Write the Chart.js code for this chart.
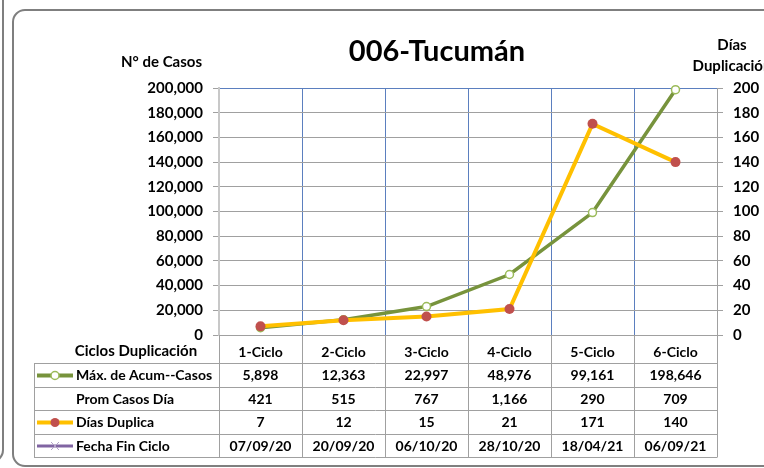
<!DOCTYPE html>
<html>
<head>
<meta charset="utf-8">
<title>006-Tucumán</title>
<script src="https://cdn.jsdelivr.net/npm/chart.js@4.4.0/dist/chart.umd.min.js"></script>
<style>
  html, body { margin: 0; padding: 0; background: #fff; }
  canvas { display: block; }
</style>
</head>
<body>
<canvas id="chart" width="764" height="468"></canvas>
<script>
// Ciclos de duplicación
const ciclos = ['1-Ciclo', '2-Ciclo', '3-Ciclo', '4-Ciclo', '5-Ciclo', '6-Ciclo'];

// Series (tabla de datos)
const maxAcumCasos = [5898, 12363, 22997, 48976, 99161, 198646];
const promCasosDia = [421, 515, 767, 1166, 290, 709];
const diasDuplica = [7, 12, 15, 21, 171, 140];
const fechaFinCiclo = ['07/09/20', '20/09/20', '06/10/20', '28/10/20', '18/04/21', '06/09/21'];

// Ejes
const casosMax = 200000;
const casosStep = 20000;
const diasMax = 200;
const diasStep = 20;

const FONT = 'Lato, "Open Sans", sans-serif';
const COLORS = {
    green: '#77933C',
    greenMarker: '#9BBB59',
    orange: '#FFC000',
    red: '#C0504D',
    purple: '#8064A2',
    purpleLight: '#B3A2C7',
    grid: '#A0A0A0',
    blue: '#5B7FBF',
    frame: '#7F7F7F',
    text: '#000000'
};

const fmt = v => Number(v).toLocaleString('en-US');

// Filas de la tabla de datos
const tableRows = [
    { label: 'Máx. de Acum--Casos', values: maxAcumCasos.map(fmt), marker: 'green' },
    { label: 'Prom Casos Día', values: promCasosDia.map(fmt), marker: null },
    { label: 'Días Duplica', values: diasDuplica.map(fmt), marker: 'orange' },
    { label: 'Fecha Fin Ciclo', values: fechaFinCiclo, marker: 'purple' }
];

// Marco redondeado y fondo
const framePlugin = {
    id: 'frame',
    beforeDraw(chart) {
        const ctx = chart.ctx;
        ctx.save();
        ctx.fillStyle = '#fff';
        ctx.fillRect(0, 0, chart.width, chart.height);
        ctx.strokeStyle = COLORS.frame;
        ctx.lineWidth = 2;
        ctx.beginPath();
        ctx.roundRect(13, 10, 780, 456, 12);
        ctx.stroke();
        // borde del gráfico vecino
        ctx.beginPath();
        ctx.moveTo(3, 0);
        ctx.lineTo(3, 450);
        ctx.arcTo(3, 462, -9, 462, 12);
        ctx.stroke();
        ctx.restore();
    }
};

function drawMarker(ctx, type, cx, cy) {
    ctx.save();
    ctx.lineCap = 'butt';
    if (type === 'green') {
        ctx.strokeStyle = COLORS.green;
        ctx.lineWidth = 4;
        ctx.beginPath(); ctx.moveTo(37, cy); ctx.lineTo(73, cy); ctx.stroke();
        ctx.fillStyle = '#fff';
        ctx.strokeStyle = COLORS.greenMarker;
        ctx.lineWidth = 1.5;
        ctx.beginPath(); ctx.arc(cx, cy, 4, 0, Math.PI * 2); ctx.fill(); ctx.stroke();
    } else if (type === 'orange') {
        ctx.strokeStyle = COLORS.orange;
        ctx.lineWidth = 4;
        ctx.beginPath(); ctx.moveTo(37, cy); ctx.lineTo(73, cy); ctx.stroke();
        ctx.fillStyle = COLORS.red;
        ctx.beginPath(); ctx.arc(cx, cy, 4.5, 0, Math.PI * 2); ctx.fill();
    } else if (type === 'purple') {
        ctx.strokeStyle = COLORS.purple;
        ctx.lineWidth = 3;
        ctx.beginPath(); ctx.moveTo(37, cy); ctx.lineTo(73, cy); ctx.stroke();
        ctx.strokeStyle = COLORS.purpleLight;
        ctx.lineWidth = 1;
        ctx.beginPath();
        ctx.moveTo(cx - 4, cy - 4); ctx.lineTo(cx + 4, cy + 4);
        ctx.moveTo(cx + 4, cy - 4); ctx.lineTo(cx - 4, cy + 4);
        ctx.stroke();
    }
    ctx.restore();
}

// Títulos y tabla de datos debajo del eje x
const tablePlugin = {
    id: 'dataTable',
    afterDraw(chart) {
        const { ctx, chartArea, scales: { x } } = chart;
        const half = (x.getPixelForValue(1) - x.getPixelForValue(0)) / 2;
        const left = 34;
        const top = chartArea.bottom + 28;
        const rowH = 23.5;
        const lines = [0, 1, 2, 3, 4].map(i => Math.round(top + i * rowH) + 0.5);
        const bottom = lines[lines.length - 1];

        ctx.save();
        ctx.strokeStyle = COLORS.grid;
        ctx.lineWidth = 1;
        ctx.beginPath();
        lines.forEach(y => { ctx.moveTo(left, y); ctx.lineTo(chartArea.right, y); });
        ctx.moveTo(left + 0.5, lines[0]); ctx.lineTo(left + 0.5, bottom);
        for (let i = 0; i <= ciclos.length; i++) {
            const bx = Math.round(x.getPixelForValue(i) - half) + 0.5;
            ctx.moveTo(bx, chartArea.bottom); ctx.lineTo(bx, bottom);
        }
        ctx.stroke();

        ctx.fillStyle = COLORS.text;
        ctx.textBaseline = 'middle';
        ctx.font = 'bold 15px ' + FONT;
        ctx.textAlign = 'center';
        ctx.fillText('Ciclos Duplicación', 136, chartArea.bottom + 16);

        tableRows.forEach((row, r) => {
            const cy = (lines[r] + lines[r + 1]) / 2;
            drawMarker(ctx, row.marker, 55, cy);
            ctx.fillStyle = COLORS.text;
            ctx.font = 'bold 14px ' + FONT;
            ctx.textAlign = 'left';
            ctx.fillText(row.label, 76, cy);
            ctx.textAlign = 'center';
            row.values.forEach((v, i) => ctx.fillText(v, x.getPixelForValue(i), cy));
        });

        // Títulos
        ctx.font = 'bold 29px ' + FONT;
        ctx.textAlign = 'center';
        ctx.fillText('006-Tucumán', 437, 52);
        ctx.font = 'bold 15px ' + FONT;
        ctx.textAlign = 'right';
        ctx.fillText('N° de Casos', 202, 62);
        ctx.textAlign = 'center';
        ctx.fillText('Días', 732, 45);
        ctx.fillText('Duplicación', 732, 66);
        ctx.restore();
    }
};

new Chart(document.getElementById('chart'), {
    type: 'line',
    data: {
        labels: ciclos,
        datasets: [{
            label: 'Máx. de Acum--Casos',
            data: maxAcumCasos,
            yAxisID: 'y',
            order: 1,
            clip: 8,
            borderColor: COLORS.green,
            borderWidth: 3.5,
            pointRadius: 4,
            pointBorderWidth: 1.5,
            pointBackgroundColor: '#fff',
            pointBorderColor: COLORS.greenMarker,
            tension: 0
        }, {
            label: 'Días Duplica',
            data: diasDuplica,
            yAxisID: 'y1',
            order: 0,
            clip: 8,
            borderColor: COLORS.orange,
            borderWidth: 4,
            pointRadius: 5,
            pointBorderWidth: 0,
            pointBackgroundColor: COLORS.red,
            pointBorderColor: COLORS.red,
            tension: 0
        }]
    },
    options: {
        responsive: false,
        animation: false,
        devicePixelRatio: 1,
        layout: { padding: { top: 88, left: 0, right: 0, bottom: 0 } },
        plugins: {
            legend: { display: false },
            tooltip: { enabled: false }
        },
        scales: {
            x: {
                offset: true,
                afterFit: s => { s.height = 133; },
                grid: {
                    offset: true,
                    drawTicks: false,
                    color: c => (c.index === 0 || c.index === ciclos.length) ? 'rgba(0,0,0,0)' : COLORS.blue
                },
                border: { display: true, color: COLORS.grid, width: 1 },
                ticks: {
                    padding: 9,
                    color: COLORS.text,
                    font: { family: FONT, size: 14, weight: 'bold' }
                }
            },
            y: {
                position: 'left',
                min: 0,
                max: casosMax,
                afterFit: s => { s.width = 219; },
                grid: {
                    tickLength: 6,
                    tickColor: COLORS.grid,
                    color: c => (c.tick && c.tick.value === casosMax) ? COLORS.blue : COLORS.grid
                },
                border: { display: true, color: '#C8C8C8', width: 2 },
                ticks: {
                    stepSize: casosStep,
                    padding: 10,
                    color: COLORS.text,
                    font: { family: FONT, size: 15, weight: 'bold' },
                    callback: v => fmt(v)
                }
            },
            y1: {
                position: 'right',
                min: 0,
                max: diasMax,
                afterFit: s => { s.width = 47; },
                grid: {
                    drawOnChartArea: false,
                    tickLength: 6,
                    tickColor: COLORS.grid
                },
                border: { display: true, color: COLORS.grid, width: 1 },
                ticks: {
                    stepSize: diasStep,
                    padding: 10,
                    color: COLORS.text,
                    font: { family: FONT, size: 15, weight: 'bold' }
                }
            }
        }
    },
    plugins: [framePlugin, tablePlugin]
});
</script>
</body>
</html>
